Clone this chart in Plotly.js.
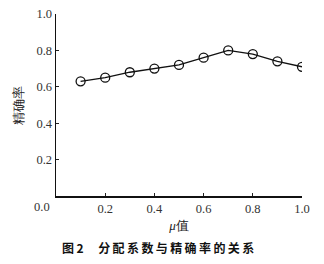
<!DOCTYPE html>
<html>
<head>
<meta charset="utf-8">
<script src="https://cdn.plot.ly/plotly-3.0.1.min.js"></script>
<style>html,body{margin:0;padding:0;background:#fff;}#chart{width:324px;height:264px;}</style>
</head>
<body>
<div id="chart"></div>
<script>
const muValues = [0.1, 0.2, 0.3, 0.4, 0.5, 0.6, 0.7, 0.8, 0.9, 1.0];
const precision = [0.63, 0.65, 0.68, 0.70, 0.72, 0.76, 0.80, 0.78, 0.74, 0.71];
const tickVals = [0.2, 0.4, 0.6, 0.8, 1.0];
const tickText = ["0.2", "0.4", "0.6", "0.8", "1.0"];
const xTitle = "<i>μ</i>值";
const yTitle = "精确率";
const caption = "图\u20092\u2003 分\u2009配\u2009系\u2009数\u2009与\u2009精\u2009确\u2009率\u2009的\u2009关\u2009系";

const serif = "'Liberation Serif', 'Times New Roman', serif";
const cjk = "'Noto Sans CJK SC', sans-serif";

const trace = {
  x: muValues, y: precision, type: 'scatter', mode: 'lines+markers',
  line: {color: '#111', width: 1.3},
  marker: {symbol: 'circle-open', size: 9, color: '#111', line: {width: 1.3, color: '#111'}},
  hoverinfo: 'skip'
};

const layout = {
  width: 324, height: 264,
  margin: {l: 55.5, r: 22, t: 14, b: 67.5},
  paper_bgcolor: '#fff', plot_bgcolor: '#fff',
  showlegend: false,
  font: {family: serif, size: 12, color: '#222'},
  xaxis: {
    range: [0, 1], tickvals: tickVals, ticktext: tickText,
    ticks: 'inside', ticklen: 3, tickcolor: '#222', tickwidth: 1,
    showline: true, linecolor: '#111', linewidth: 1.5,
    showgrid: false, zeroline: false, fixedrange: true,
    tickfont: {family: serif, size: 12.5, color: '#333'},
    title: {text: xTitle, font: {family: serif, size: 13, color: '#222'}, standoff: 6}
  },
  yaxis: {
    range: [0, 1], tickvals: tickVals, ticktext: tickText,
    ticks: 'inside', ticklen: 3, tickcolor: '#222', tickwidth: 1,
    showline: true, linecolor: '#111', linewidth: 1.5,
    showgrid: false, zeroline: false, fixedrange: true,
    tickfont: {family: serif, size: 12.5, color: '#333'},
    title: {text: yTitle, font: {family: serif, size: 12.5, color: '#222'}, standoff: 10}
  },
  annotations: [
    {text: "0.0", xref: 'paper', yref: 'paper', x: -0.055, y: -0.058,
     xanchor: 'center', yanchor: 'middle', showarrow: false,
     font: {family: serif, size: 12.5, color: '#333'}},
    {text: "<b>" + caption + "</b>", xref: 'paper', yref: 'paper', x: 0.018, y: -0.285,
     xanchor: 'left', yanchor: 'middle', showarrow: false,
     font: {family: cjk, size: 12, color: '#111'}}
  ]
};

Plotly.newPlot('chart', [trace], layout, {displayModeBar: false, staticPlot: true});
</script>
</body>
</html>
